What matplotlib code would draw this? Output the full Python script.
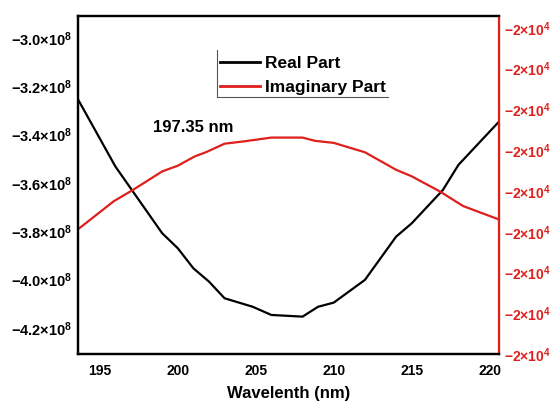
import matplotlib
matplotlib.use("Agg")
import matplotlib.pyplot as plt
from matplotlib.ticker import FuncFormatter, FixedLocator
from matplotlib.lines import Line2D

plt.rcParams['font.family'] = ['Liberation Sans', 'DejaVu Sans']
plt.rcParams['font.weight'] = 'bold'
plt.rcParams['mathtext.fontset'] = 'custom'
plt.rcParams['mathtext.rm'] = 'Liberation Sans:bold'
plt.rcParams['mathtext.bf'] = 'Liberation Sans:bold'
plt.rcParams['mathtext.it'] = 'Liberation Sans:bold'

# real part (left axis)
wl_real = [193.6, 196, 199, 200, 201, 202, 203, 204.8, 206, 208, 209, 210,
           212, 214, 215, 217, 218, 219, 220.6]
real_part = [-3.254e8, -3.532e8, -3.808e8, -3.870e8, -3.953e8, -4.008e8,
             -4.077e8, -4.112e8, -4.146e8, -4.153e8, -4.112e8, -4.095e8,
             -4.001e8, -3.822e8, -3.767e8, -3.629e8, -3.525e8, -3.456e8,
             -3.346e8]

# imaginary part (right axis)
wl_imag = [193.6, 195.9, 197.1, 199, 200, 201.1, 201.8, 203, 204.3, 206, 208,
           208.8, 210, 212, 214, 215, 216.8, 218.3, 220.6]
imag_part = [-20009.4, -20002.5, -19999.8, -19995.2, -19993.8, -19991.5,
             -19990.5, -19988.4, -19987.8, -19986.9, -19986.9, -19987.7,
             -19988.2, -19990.5, -19994.8, -19996.4, -20000.1, -20003.7,
             -20007.0]

left_ticks = [-3.0e8, -3.2e8, -3.4e8, -3.6e8, -3.8e8, -4.0e8, -4.2e8]
right_ticks = [-20040, -20030, -20020, -20010, -20000, -19990, -19980, -19970, -19960]
x_ticks = [195, 200, 205, 210, 215, 220]
peak_label = "197.35 nm"

red = '#de1f1b'

fig = plt.figure(figsize=(5.52, 4.05), dpi=100)
ax = fig.add_axes([0.1413, 0.1259, 0.904 - 0.1413, 0.9605 - 0.1259])
ax2 = ax.twinx()

l1, = ax.plot(wl_real, real_part, color='black', lw=1.6, label='Real Part')
l2, = ax2.plot(wl_imag, imag_part, color=red, lw=1.6, label='Imaginary Part')

ax.set_xlim(193.6, 220.6)
ax.set_ylim(-4.3076e8, -2.909e8)
ax2.set_ylim(-20040, -19957.07)

ax.xaxis.set_major_locator(FixedLocator(x_ticks))
ax.yaxis.set_major_locator(FixedLocator(left_ticks))
ax2.yaxis.set_major_locator(FixedLocator(right_ticks))

ax.yaxis.set_major_formatter(FuncFormatter(
    lambda v, p: r'$\mathbf{-%.1f{\times}10^{8}}$' % (abs(v) / 1e8)))
ax2.yaxis.set_major_formatter(FuncFormatter(
    lambda v, p: r'$\mathbf{-%d{\times}10^{4}}$' % round(abs(v) / 1e4)))

ax.tick_params(axis='x', length=0, pad=7, labelsize=10)
ax.tick_params(axis='y', length=0, pad=4, labelsize=10.5)
ax2.tick_params(axis='y', length=0, pad=3.5, labelsize=10, colors=red)

for s in ['left', 'bottom', 'top']:
    ax.spines[s].set_linewidth(1.6)
ax2.spines['right'].set_color(red)
for s in ['right', 'top', 'left', 'bottom']:
    ax2.spines[s].set_linewidth(1.6)

ax.set_xlabel("Wavelenth (nm)", fontsize=12, fontweight='bold', labelpad=6)

ax.text(198.4, -3.372e8, peak_label, fontsize=12, fontweight='bold',
        ha='left', va='center')

W, H = 552, 405
leg = fig.legend(handles=[l1, l2], loc='upper left',
                 bbox_to_anchor=(220 / W, 1 - 56 / H), frameon=False,
                 fontsize=12.5, handlelength=2.3, handletextpad=0.3,
                 labelspacing=0.5, borderpad=0, borderaxespad=0)
for t in leg.get_texts():
    t.set_fontweight('bold')
for h in leg.legend_handles:
    h.set_linewidth(2)

# partial legend frame: left and bottom edges only
fig.add_artist(Line2D([217 / W, 217 / W], [1 - 50 / H, 1 - 97 / H],
                      color='#555555', lw=0.8))
fig.add_artist(Line2D([217 / W, 388 / W], [1 - 97 / H, 1 - 97 / H],
                      color='#555555', lw=0.8))

fig.savefig("out.png", dpi=100)
